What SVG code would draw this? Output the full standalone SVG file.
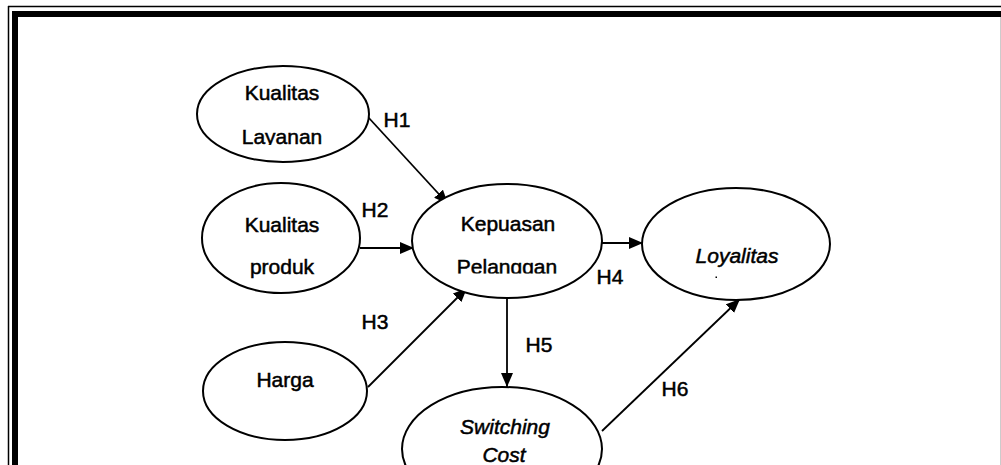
<svg xmlns="http://www.w3.org/2000/svg" width="1001" height="465" viewBox="0 0 1001 465">
  <style>
    .node ellipse { fill: #fff; stroke: #000; stroke-width: 2; }
    .lbl { font-family: "Liberation Sans", Arial, sans-serif; font-size: 21px; fill: #000; stroke: #000; stroke-width: 0.5; text-anchor: middle; }
    .it { font-style: italic; }
    .edge { stroke: #000; stroke-width: 1.8; fill: none; marker-end: url(#arrow); }
  </style>
  <defs>
    <marker id="arrow" viewBox="0 0 14 12" refX="14" refY="6" markerWidth="14" markerHeight="12" markerUnits="userSpaceOnUse" orient="auto">
      <path d="M0,0 L14,6 L0,12 Z" fill="#000"/>
    </marker>
    <clipPath id="clipLayanan"><rect x="200" y="120" width="170" height="25"/></clipPath>
    <clipPath id="clipPelanggan"><rect x="420" y="250" width="180" height="23.5"/></clipPath>
  </defs>

  <rect x="0" y="0" width="1001" height="465" fill="#fff"/>

  <!-- page border: thin outer rule and heavy inner rule -->
  <g id="border">
    <line x1="8" y1="6.5" x2="1001" y2="6.5" stroke="#000" stroke-width="1.5"/>
    <line x1="8.5" y1="6" x2="8.5" y2="465" stroke="#000" stroke-width="1.5"/>
    <rect x="12" y="11" width="989" height="6" fill="#000"/>
    <rect x="12" y="11" width="6" height="454" fill="#000"/>
    <line x1="1000.5" y1="17" x2="1000.5" y2="465" stroke="#ccc" stroke-width="1"/>
  </g>

  <!-- connectors -->
  <g id="connectors">
    <line class="edge" x1="368" y1="117" x2="448" y2="204"/>
    <line class="edge" x1="360" y1="248" x2="414" y2="248"/>
    <line class="edge" x1="368" y1="387" x2="467" y2="288"/>
    <line class="edge" x1="601" y1="243" x2="643" y2="243"/>
    <line class="edge" x1="507" y1="298" x2="507" y2="387"/>
    <line class="edge" x1="602" y1="431" x2="740" y2="299"/>
  </g>

  <g id="layanan" class="node">
    <ellipse cx="283" cy="114" rx="86" ry="48"/>
    <text class="lbl" x="282" y="100">Kualitas</text>
    <text class="lbl" x="282" y="144" clip-path="url(#clipLayanan)">Layanan</text>
  </g>

  <g id="produk" class="node">
    <ellipse cx="281" cy="238" rx="79" ry="55"/>
    <text class="lbl" x="282" y="232">Kualitas</text>
    <text class="lbl" x="282" y="274">produk</text>
  </g>

  <g id="harga" class="node">
    <ellipse cx="285" cy="391" rx="82" ry="49"/>
    <text class="lbl" x="285" y="387">Harga</text>
  </g>

  <g id="kepuasan" class="node">
    <ellipse cx="507" cy="241" rx="95" ry="57"/>
    <text class="lbl" x="508" y="231">Kepuasan</text>
    <text class="lbl" x="507" y="274" clip-path="url(#clipPelanggan)">Pelanggan</text>
  </g>

  <g id="loyalitas" class="node">
    <ellipse cx="736" cy="244" rx="94" ry="56"/>
    <text class="lbl it" x="737" y="263">Loyalitas</text>
    <rect x="715.5" y="276.5" width="1.5" height="1.5" fill="#000"/>
  </g>

  <g id="switching" class="node">
    <ellipse cx="502" cy="449" rx="100" ry="62"/>
    <text class="lbl it" x="505" y="434">Switching</text>
    <text class="lbl it" x="504" y="462">Cost</text>
  </g>

  <!-- hypothesis labels -->
  <g id="labels">
    <text class="lbl" x="397" y="127">H1</text>
    <text class="lbl" x="375" y="217">H2</text>
    <text class="lbl" x="375" y="329">H3</text>
    <text class="lbl" x="610" y="284">H4</text>
    <text class="lbl" x="539" y="352">H5</text>
    <text class="lbl" x="675" y="396">H6</text>
  </g>
</svg>
